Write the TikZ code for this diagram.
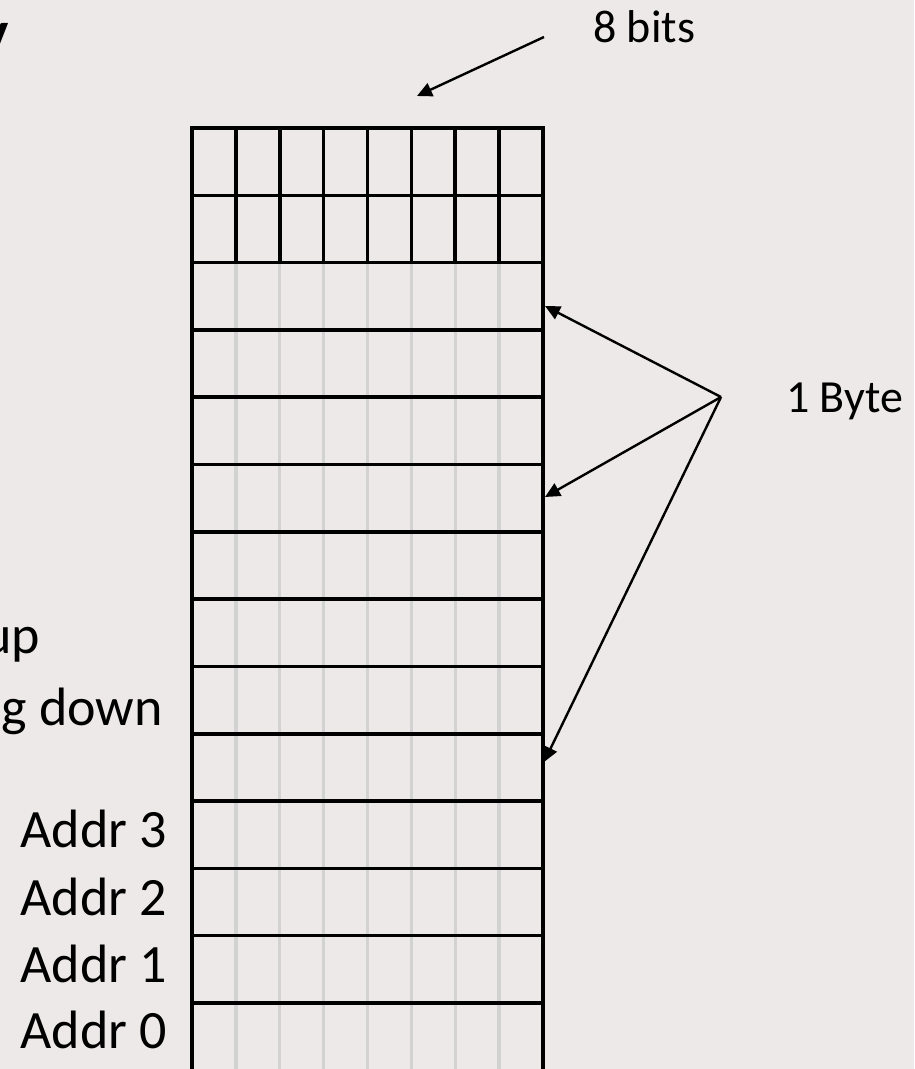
\documentclass[tikz,border=0pt]{standalone}
\usepackage{fontspec}
\setmainfont{Carlito}
\usetikzlibrary{arrows.meta}
\definecolor{bgcol}{RGB}{238,233,233}
\definecolor{faintgrid}{RGB}{210,210,210}
\tikzset{
  gridline/.style={black, line width=3.6pt},
  softline/.style={faintgrid, line width=3.3pt},
  pointer/.style={black, line width=2.4pt, -{Triangle[length=15pt,width=14pt]}},
  bigtext/.style={inner sep=0pt, font=\fontsize{54}{64}\selectfont},
  midtext/.style={inner sep=0pt, font=\fontsize{46}{55}\selectfont},
}
\begin{document}
\begin{tikzpicture}[x=1pt, y=-1pt]
\useasboundingbox (0,0) rectangle (914,1069);
\fill[bgcol] (0,0) rectangle (914,1069);
% column positions
\def\colL{192}
\def\colW{43.875}
\def\rowT{128}
\def\rowH{67.3}
% faint vertical dividers in the lower rows
\foreach \i in {1,...,7}{
  \draw[softline] ({\colL+\i*\colW},{\rowT+2*\rowH}) -- ({\colL+\i*\colW},1075);
}
% black vertical dividers in the top two rows
\foreach \i in {1,...,7}{
  \draw[gridline] ({\colL+\i*\colW},\rowT) -- ({\colL+\i*\colW},{\rowT+2*\rowH});
}
% horizontal lines
\foreach \k in {0,...,13}{
  \draw[gridline] (\colL,{\rowT+\k*\rowH}) -- (543,{\rowT+\k*\rowH});
}
% outer vertical sides
\draw[gridline, line cap=rect] (\colL,\rowT) -- (\colL,1075);
\draw[gridline, line cap=rect] (543,\rowT) -- (543,1075);

% texts
\node[inner sep=0pt, anchor=base east, font=\fontsize{60}{70}\selectfont\bfseries] (ttl) at (9,52) {y};
\node[bigtext, anchor=base east] (up) at (40,653) {up};
\node[bigtext, anchor=base east] (down) at (163,725) {ng down};
\node[bigtext, anchor=base east] (a3) at (167,847) {Addr 3};
\node[bigtext, anchor=base east] (a2) at (167,915) {Addr 2};
\node[bigtext, anchor=base east] (a1) at (167,982) {Addr 1};
\node[bigtext, anchor=base east] (a0) at (167,1048) {Addr 0};
\node[midtext, anchor=base west] (bits) at (593,42) {8 bits};
\node[midtext, anchor=base west] (byte) at (786,412) {1 Byte};

% arrows
\coordinate (bitsFrom) at (544,37);
\coordinate (bitsTip) at (417,96);
\coordinate (fork) at (721,397);
\coordinate (tipA) at (545,306);
\coordinate (tipB) at (545,497);
\coordinate (tipC) at (544,762);
\draw[pointer] (bitsFrom) -- (bitsTip);
\draw[pointer] (fork) -- (tipA);
\draw[pointer] (fork) -- (tipB);
\draw[pointer] (fork) -- (tipC);
\end{tikzpicture}
\end{document}
